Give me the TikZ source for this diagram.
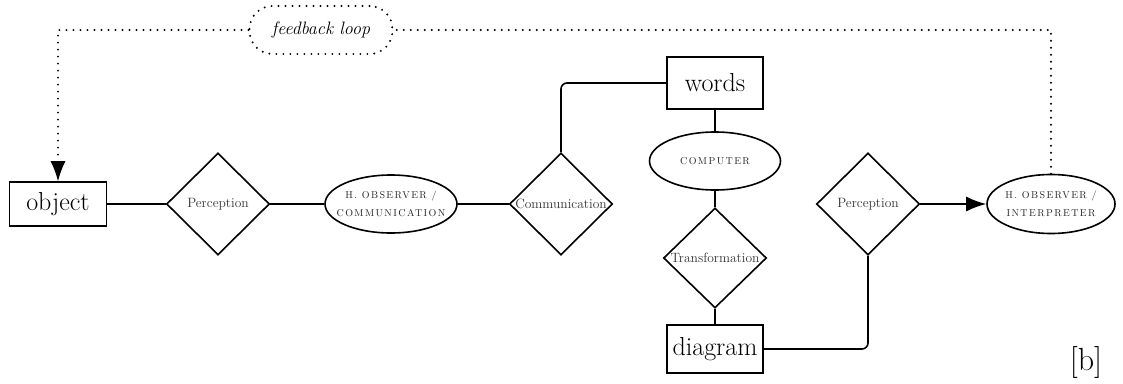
\documentclass[tikz,border=0pt]{standalone}
\usepackage{fontspec}
\usetikzlibrary{arrows.meta,shapes.geometric}
\newfontfamily\attrfamily[LetterSpace=14]{Latin Modern Roman}
\begin{document}
\begin{tikzpicture}[x=1pt,y=-1pt,
  line width=1.6pt,
  entity/.style={draw, rectangle, inner sep=0pt, font=\fontsize{26}{28}\selectfont},
  rel/.style={draw, diamond, inner sep=0pt, minimum width=103pt, minimum height=102pt, aspect=1, font=\fontsize{13.5}{15}\selectfont, text=black!80},
  attr/.style={draw, ellipse, inner xsep=-14pt, inner ysep=0pt, font=\attrfamily\fontsize{10}{18}\selectfont, align=center, text=black!85},
  fb/.style={line width=2.2pt, dash pattern=on 0pt off 7pt, line cap=round},
  tip/.style={-{Latex[length=20pt,width=15pt]}}
]
\useasboundingbox (0,0) rectangle (1123,383);

\node[entity, minimum width=97pt, minimum height=44pt] (object) at (58,204) {object};
\node[rel] (perc1) at (218,204) {Perception};
\node[attr, minimum width=132pt, minimum height=58pt] (obscom) at (391,204) {H. OBSERVER /\\COMMUNICATION};
\node[rel] (comm) at (561,204) {Communication};
\node[entity, minimum width=96pt, minimum height=52pt] (words) at (715,83) {words};
\node[attr, minimum width=131pt, minimum height=58pt] (computer) at (715,161) {COMPUTER};
\node[rel, minimum height=100pt] (trans) at (715,258) {Transformation};
\node[entity, minimum width=96pt, minimum height=48pt] (diagram) at (715,349) {diagram};
\node[rel] (perc2) at (868,204) {Perception};
\node[attr, minimum width=128pt, minimum height=59pt] (obsint) at (1051,204) {H. OBSERVER /\\INTERPRETER};

\node[draw, fb, rounded corners=23pt, minimum width=143pt, minimum height=48pt, font=\fontsize{18}{20}\selectfont\itshape] (loop) at (321,30) {feedback loop};

\node[font=\fontsize{32}{34}\selectfont] (label) at (1086,362) {[b]};

\draw (object.east) -- (perc1.west);
\draw (perc1.east) -- (obscom.west);
\draw (obscom.east) -- (comm.west);
\draw[rounded corners=6pt] (comm.north) |- (words.west);
\draw (words.south) -- (computer.north);
\draw (computer.south) -- (trans.north);
\draw (trans.south) -- (diagram.north);
\draw[rounded corners=6pt] (diagram.east) -| (perc2.south);
\draw[tip] (perc2.east) -- (obsint.west);

\coordinate (fbend) at ([yshift=20pt]object.north);
\draw[fb] (obsint.north) |- (loop.east);
\draw[fb] (loop.west) -| (fbend);
\draw[tip, line width=1.2pt] (fbend) -- (object.north);
\end{tikzpicture}
\end{document}
